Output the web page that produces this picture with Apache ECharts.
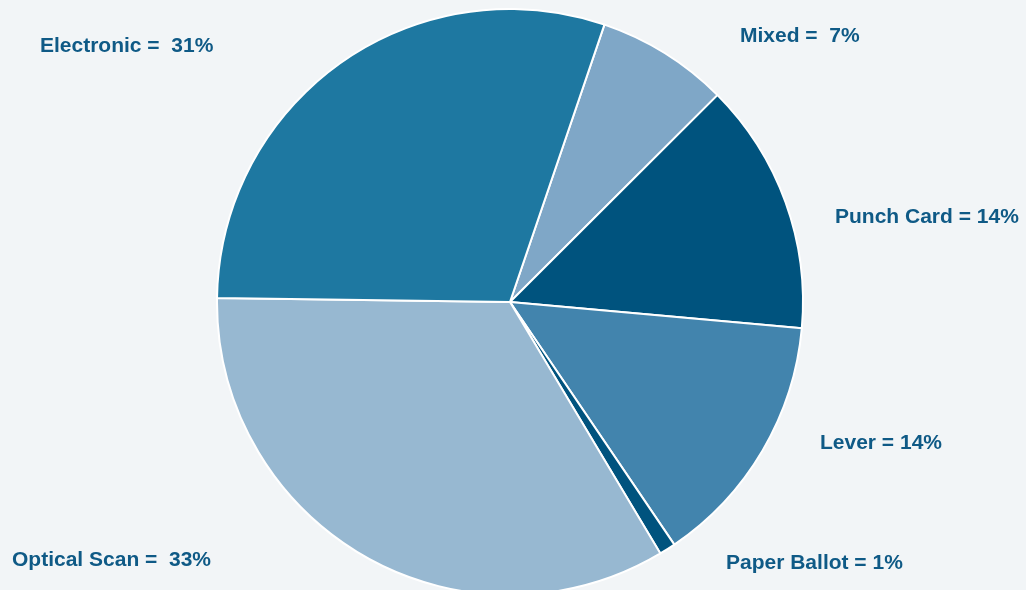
<!DOCTYPE html>
<html>
<head>
<meta charset="utf-8">
<script src="https://cdn.jsdelivr.net/npm/echarts@6/dist/echarts.min.js"></script>
<style>
  html, body { margin: 0; padding: 0; background: #f2f5f7; }
  #chart { width: 1026px; height: 590px; }
</style>
</head>
<body>
<div id="chart"></div>
<script>
// clockwise from the Mixed slice
const categories = ['Mixed', 'Punch Card', 'Lever', 'Paper Ballot', 'Optical Scan', 'Electronic']
// slice sizes
const shares = [7.3, 13.9, 14.1, 0.9, 33.8, 30.0]
// percentages printed in the labels
const labelPercents = ['7%', '14%', '14%', '1%', '33%', '31%']
const colors = ['#7fa7c7', '#00537e', '#4284ad', '#00537e', '#97b8d1', '#1e78a1']

const labelText = [
  'Mixed =  ' + labelPercents[0],
  'Punch Card = ' + labelPercents[1],
  'Lever = ' + labelPercents[2],
  'Paper Ballot = ' + labelPercents[3],
  'Optical Scan =  ' + labelPercents[4],
  'Electronic =  ' + labelPercents[5]
]
const labelPos = [
  [740, 36], [835, 217], [820, 443], [726, 563], [12, 560], [40, 46]
]

const chart = echarts.init(document.getElementById('chart'))

const option = {
  backgroundColor: '#f2f5f7',
  animation: false,
  series: [{
    type: 'pie',
    center: [510, 302],
    radius: 293,
    startAngle: 71.2,
    clockwise: true,
    label: { show: false },
    labelLine: { show: false },
    itemStyle: { borderColor: '#ffffff', borderWidth: 2 },
    data: categories.map((name, i) => ({
      name,
      value: shares[i],
      itemStyle: { color: colors[i] }
    }))
  }],
  graphic: labelText.map((t, i) => ({
    type: 'text',
    left: labelPos[i][0],
    top: labelPos[i][1] - 10,
    style: {
      text: t,
      fill: '#0f5a86',
      font: 'bold 21px "Liberation Sans", Arial, sans-serif'
    }
  }))
}

chart.setOption(option)
</script>
</body>
</html>
